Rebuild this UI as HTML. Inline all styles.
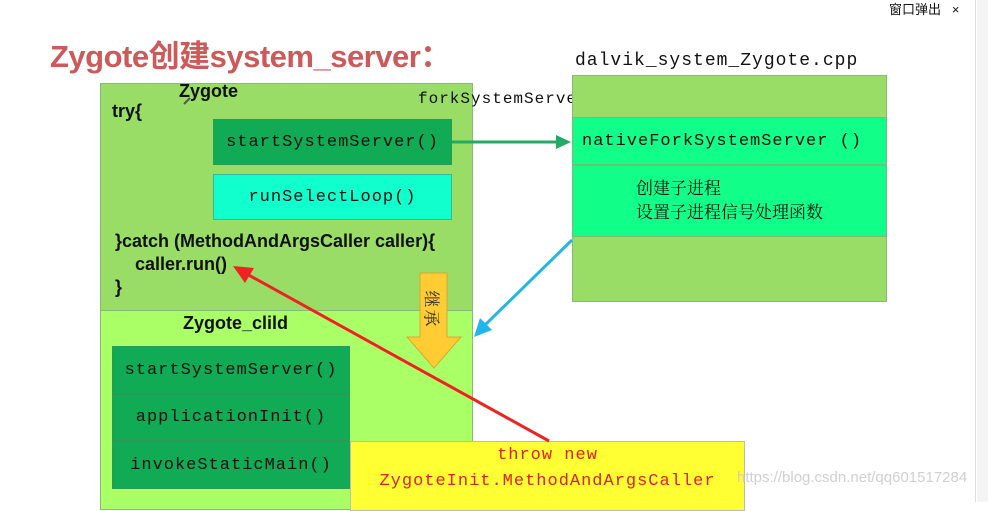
<!DOCTYPE html>
<html><head><meta charset="utf-8">
<style>
*{margin:0;padding:0;box-sizing:border-box}
body{width:988px;height:502px;overflow:hidden;background:#fff;position:relative;font-family:"Liberation Sans","Noto Sans CJK SC",sans-serif}
.a{position:absolute}
.mono{font-family:"Liberation Mono","Noto Serif CJK SC",monospace;letter-spacing:1px}
.box{position:absolute;display:flex;align-items:center;justify-content:center;color:#111;font-size:17px}
</style></head><body>
<div class="a" style="right:12px;top:0;width:0;height:502px;border-left:1px solid #ddd"></div>
<div class="a" style="left:977px;top:0;width:11px;height:502px;background:#f4f4f4"></div>
<div class="a" style="left:889px;top:-1px;font-size:13px;color:#111;font-family:'Liberation Sans','Noto Sans CJK SC',sans-serif">窗口弹出&nbsp;&nbsp;&nbsp;×</div>

<div class="a" style="left:50px;top:31px;font-size:31px;font-weight:bold;color:#cc5a5a;font-family:'Liberation Sans','Noto Sans CJK SC',sans-serif;letter-spacing:-0.5px">Zygote创建system_server：</div>

<!-- Zygote box -->
<div class="a" style="left:100px;top:83px;width:373px;height:228px;background:#99dd66;border:1px solid #8bb877"></div>
<div class="a" style="left:100px;top:310px;width:373px;height:200px;background:#aaff66;border:1px solid #8bb877"></div>
<div class="a" style="left:179px;top:81px;font-size:18px;font-weight:bold;color:#111">Zygote</div>
<div class="a" style="left:112px;top:101px;font-size:18px;font-weight:bold;color:#111">try{</div>
<div class="a mono" style="left:418px;top:90px;font-size:16px;color:#111">forkSystemServer()</div>
<div class="box mono" style="left:213px;top:119px;width:239px;height:46px;background:#11aa55;border:1px solid #2a9a55">startSystemServer()</div>
<div class="box mono" style="left:213px;top:174px;width:239px;height:46px;background:#11ffcc;border:1px solid #33bb99">runSelectLoop()</div>
<div class="a" style="left:115px;top:230px;font-size:18px;font-weight:bold;color:#111;line-height:23px">}catch (MethodAndArgsCaller caller){<br>&nbsp;&nbsp;&nbsp;&nbsp;caller.run()<br>}</div>

<div class="a" style="left:183px;top:313px;font-size:18px;font-weight:bold;color:#111">Zygote_clild</div>
<div class="box mono" style="left:112px;top:346px;width:238px;height:48px;background:#11aa55;border:1px solid #2a9a55">startSystemServer()</div>
<div class="box mono" style="left:112px;top:394px;width:238px;height:47px;background:#11aa55;border:1px solid #2a9a55">applicationInit()</div>
<div class="box mono" style="left:112px;top:441px;width:238px;height:48px;background:#11aa55;border:1px solid #2a9a55">invokeStaticMain()</div>

<!-- right box -->
<div class="a mono" style="left:575px;top:51px;font-size:18px;color:#111">dalvik_system_Zygote.cpp</div>
<div class="a" style="left:572px;top:75px;width:315px;height:227px;background:#99dd66;border:1px solid #8bb877"></div>
<div class="box mono" style="left:572px;top:117px;width:315px;height:48px;background:#11ff88;border:1px solid #77bb77;justify-content:flex-start;padding-left:9px">nativeForkSystemServer ()</div>
<div class="box" style="left:572px;top:165px;width:315px;height:72px;background:#11ff88;border:1px solid #77bb77;flex-direction:column;font-family:'Liberation Serif','Noto Serif CJK SC',serif;line-height:24px">创建子进程<br>设置子进程信号处理函数</div>

<!-- yellow box -->
<div class="a mono" style="left:350px;top:441px;width:395px;height:70px;background:#ffff33;border:1px solid #bbb;color:#e02020;font-size:17px;text-align:center;line-height:26px;padding-top:1px">throw new<br>ZygoteInit.MethodAndArgsCaller</div>

<svg class="a" style="left:0;top:0" width="988" height="502">
<polygon points="420,273 447,273 447,337 461,337 434,368 407,337 420,337" fill="#ffcc33" stroke="#d8a830" stroke-width="1"/>
<line x1="452" y1="142" x2="558" y2="142" stroke="#22aa66" stroke-width="3"/>
<polygon points="571,142 556,135 556,149" fill="#22aa66"/>
<line x1="572" y1="240" x2="483" y2="327" stroke="#22b5ea" stroke-width="3"/>
<polygon points="474,337 480,318 492,330" fill="#22b5ea"/>
<line x1="549" y1="441" x2="245" y2="273" stroke="#ee2222" stroke-width="3"/>
<polygon points="233,266 254,268 245,283" fill="#ee2222"/>
<line x1="184" y1="104" x2="190" y2="98" stroke="#555" stroke-width="2"/>
</svg>
<div class="a" style="left:420px;top:297px;font-size:17px;color:#333;transform:rotate(90deg);transform-origin:center;font-family:'Noto Serif CJK SC',serif;width:40px;text-align:center;margin-left:-7px;letter-spacing:2px">继承</div>

<div class="a" style="left:737px;top:469px;font-size:15px;color:rgba(200,200,200,0.85)">https://blog.csdn.net/qq601517284</div>
</body></html>
